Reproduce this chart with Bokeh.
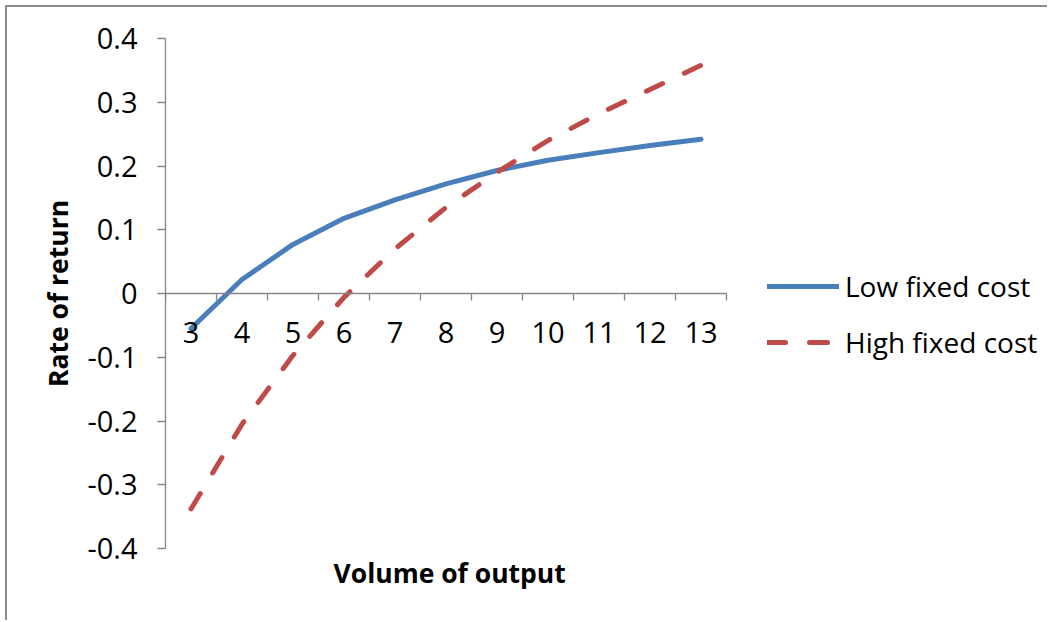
from bokeh.plotting import figure
from bokeh.models import (Range1d, FixedTicker, Legend, LegendItem, Title)
from bokeh.embed import file_html
from bokeh.resources import INLINE

# ---- data ----
volume = [3, 4, 5, 6, 7, 8, 9, 10, 11, 12, 13]
low_fixed_cost = [-0.055, 0.022, 0.077, 0.118, 0.147, 0.172, 0.193, 0.209, 0.221, 0.232, 0.242]
high_fixed_cost = [-0.338, -0.205, -0.097, -0.006, 0.070, 0.135, 0.190, 0.240, 0.282, 0.320, 0.358]
y_ticks = [-0.4, -0.3, -0.2, -0.1, 0.0, 0.1, 0.2, 0.3, 0.4]
y_tick_labels = ["-0.4", "-0.3", "-0.2", "-0.1", "0", "0.1", "0.2", "0.3", "0.4"]
x_labels = [str(v) for v in volume]
x_boundaries = [v - 0.5 for v in volume] + [volume[-1] + 0.5]

FONT = "Open Sans"
AXIS_GREY = "#868686"

# layout (pixels)
W, H = 1042, 615
FRAME_LEFT, FRAME_TOP = 158, 31
AXIS_W = 561            # width of the category axis
FRAME_RIGHT_BORDER = 7
FRAME_BOTTOM_BORDER = 74
frame_w = W - FRAME_LEFT - FRAME_RIGHT_BORDER
x_start = volume[0] - 0.5
x_axis_end = volume[-1] + 0.5
# extend the plotting frame to the right so the legend (drawn inside the frame) is not clipped
x_end = x_start + (x_axis_end - x_start) * frame_w / AXIS_W

p = figure(width=W, height=H, output_backend="svg", toolbar_location=None,
           x_range=Range1d(x_start, x_end),
           y_range=Range1d(-0.4, 0.4),
           min_border_left=FRAME_LEFT, min_border_right=FRAME_RIGHT_BORDER,
           min_border_top=FRAME_TOP, min_border_bottom=FRAME_BOTTOM_BORDER,
           x_axis_location="below", y_axis_location="left")
p.styles = {"margin-left": "5px", "margin-top": "5px",
            "border-left": "2px solid #8c8c8c", "border-top": "2px solid #8c8c8c"}
p.outline_line_color = None
p.xgrid.visible = False
p.ygrid.visible = False
p.background_fill_color = "white"
p.border_fill_color = "white"

# x axis crossing at y = 0
xa = p.xaxis[0]
xa.fixed_location = 0
xa.bounds = (x_start, x_axis_end)
xa.ticker = FixedTicker(ticks=volume, minor_ticks=x_boundaries)
xa.major_label_overrides = {v: s for v, s in zip(volume, x_labels)}
xa.axis_line_color = AXIS_GREY
xa.axis_line_width = 1.3
xa.major_tick_out = 0
xa.major_tick_in = 0
xa.minor_tick_out = 7
xa.minor_tick_in = 0
xa.minor_tick_line_color = AXIS_GREY
xa.minor_tick_line_width = 1.3
xa.major_label_standoff = 21
xa.major_label_text_font = FONT
xa.major_label_text_font_size = "29px"
xa.major_label_text_color = "black"

# x axis title, placed under the category axis
p.add_layout(Title(text="Volume of output", align="left", offset=168, standoff=8,
                   text_font=FONT, text_font_size="26.5px", text_font_style="bold",
                   text_color="black"), "below")

# y axis
ya = p.yaxis[0]
ya.ticker = FixedTicker(ticks=y_ticks, minor_ticks=[])
ya.major_label_overrides = {v: s for v, s in zip(y_ticks, y_tick_labels)}
ya.axis_line_color = AXIS_GREY
ya.axis_line_width = 1.3
ya.major_tick_line_color = AXIS_GREY
ya.major_tick_line_width = 1.3
ya.major_tick_out = 8
ya.major_tick_in = 0
ya.minor_tick_line_color = None
ya.major_label_standoff = 20
ya.major_label_text_font = FONT
ya.major_label_text_font_size = "29px"
ya.major_label_text_color = "black"
ya.axis_label = "Rate of return"
ya.axis_label_standoff = 8
ya.axis_label_text_font = FONT
ya.axis_label_text_font_size = "26.5px"
ya.axis_label_text_font_style = "bold"
ya.axis_label_text_color = "black"

# series
r_low = p.line(volume, low_fixed_cost, line_color="#4A7EBB", line_width=5,
               line_cap="round", line_join="round")
r_high = p.line(volume, high_fixed_cost, line_color="#BE4B48", line_width=5,
                line_cap="round", line_join="round", line_dash="18 24")

legend = Legend(items=[LegendItem(label="Low fixed cost", renderers=[r_low]),
                       LegendItem(label="High fixed cost", renderers=[r_high])],
                location=(602, 187), orientation="vertical",
                glyph_width=72, glyph_height=30, label_standoff=6, spacing=18,
                padding=0, margin=0, border_line_color=None,
                background_fill_alpha=0,
                label_text_font=FONT, label_text_font_size="28px",
                label_text_color="black", label_height=30)
p.add_layout(legend, "center")

open("out.html", "w").write(file_html(p, INLINE))
